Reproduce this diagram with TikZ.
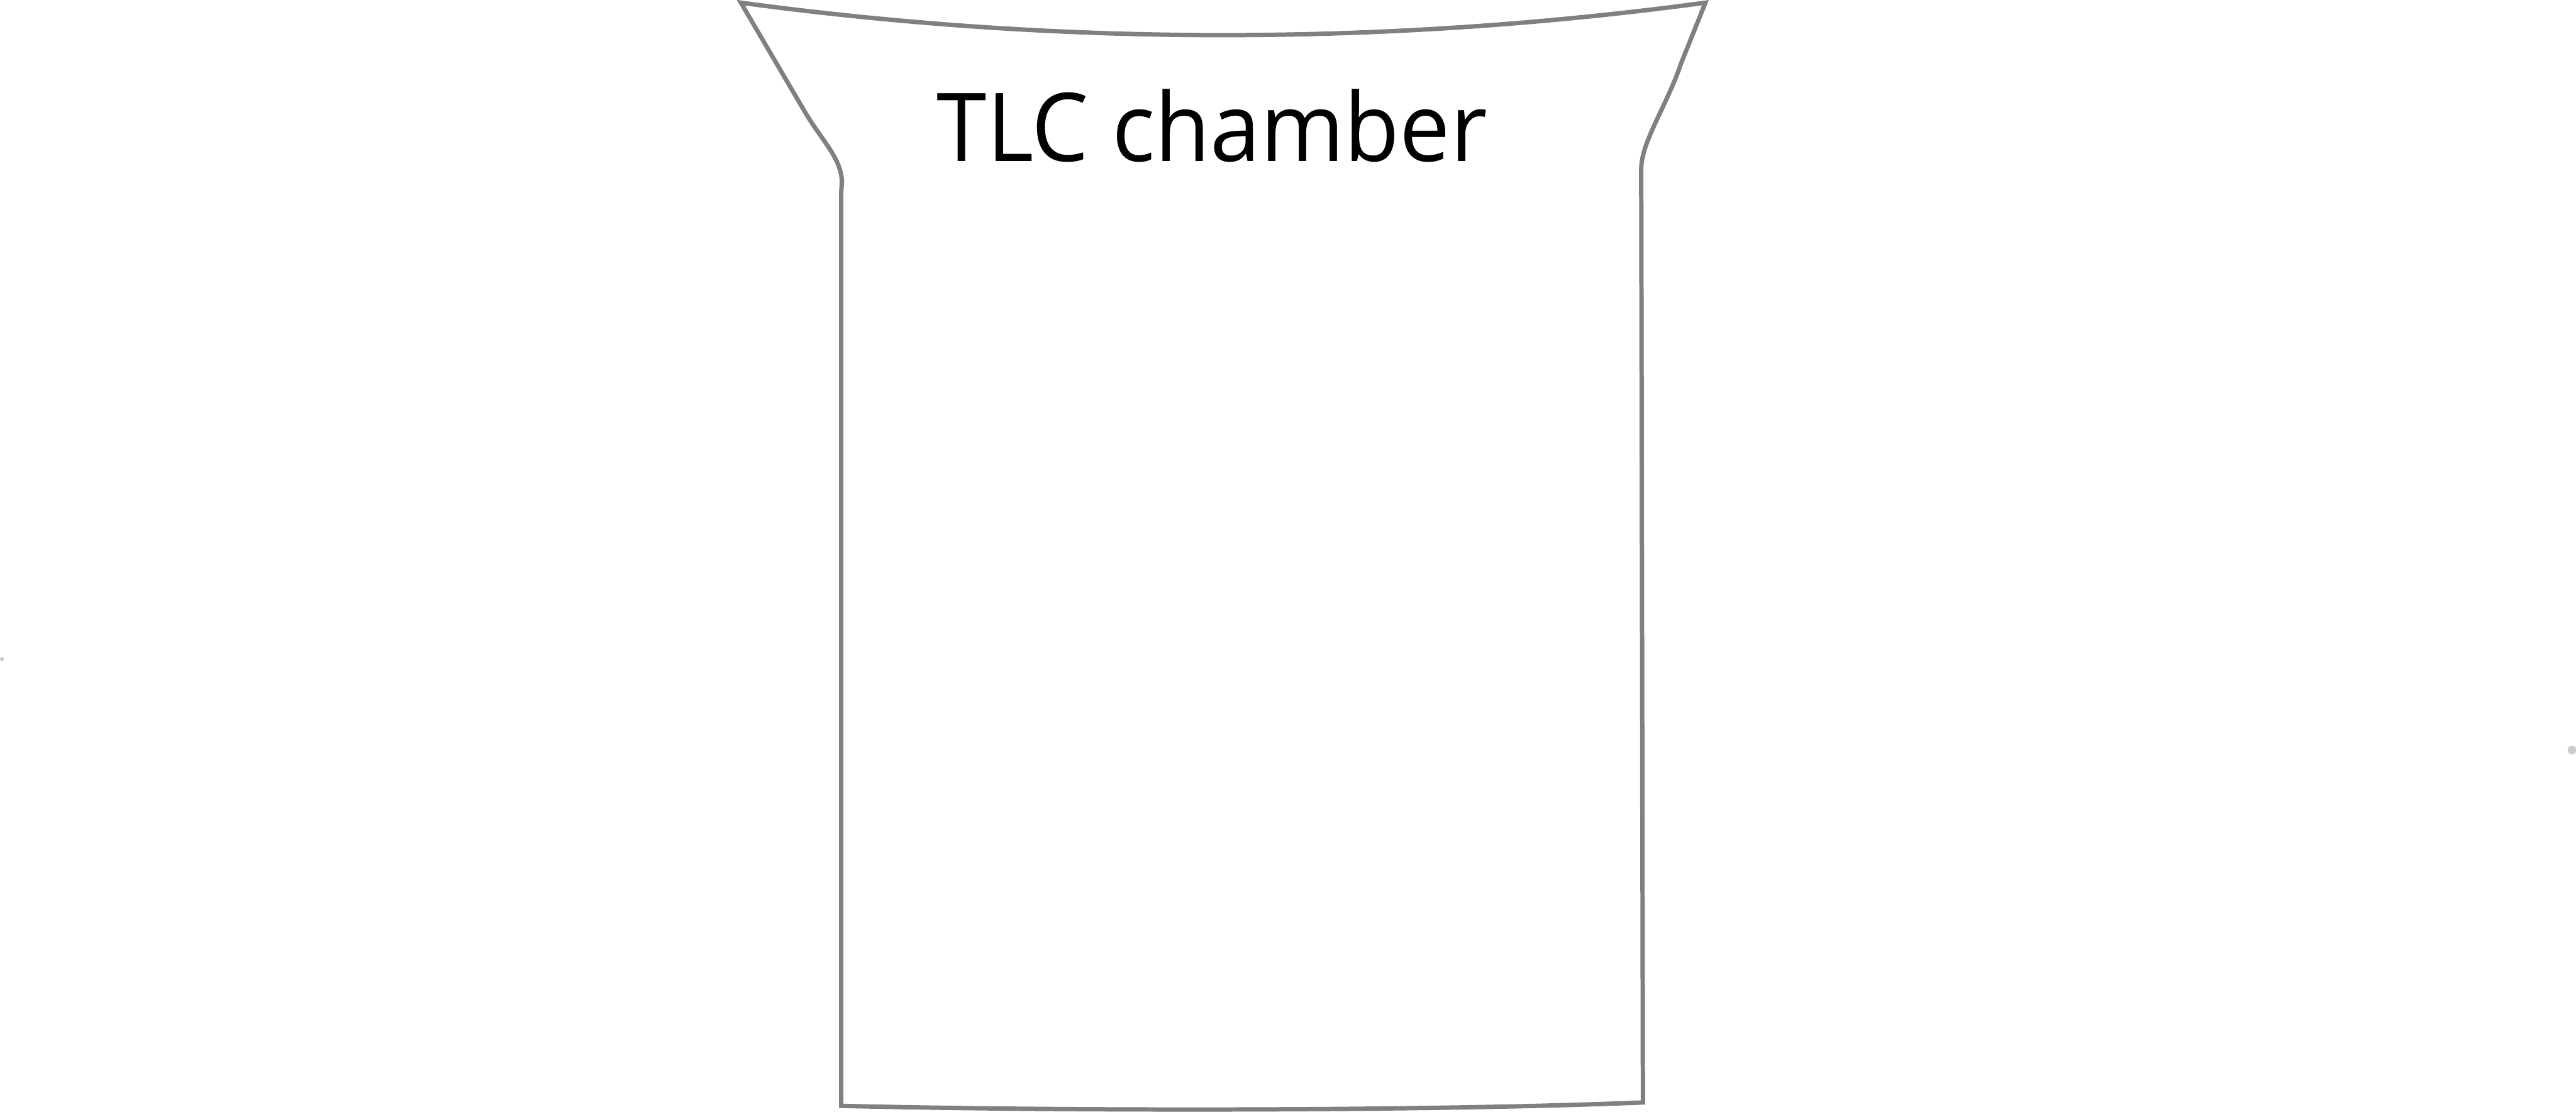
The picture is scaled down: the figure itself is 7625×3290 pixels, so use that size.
\documentclass[tikz,border=0pt]{standalone}
\usepackage{fontspec}
\setmainfont{Open Sans}
\usepackage{tikz}
\usetikzlibrary{positioning}

\begin{document}
\begin{tikzpicture}[
    x=0.05mm, y=-0.05mm,
    glass/.style={draw=black!50, line width=0.65mm, line join=miter},
    speck/.style={fill=black!20, draw=none},
    title/.style={font=\fontsize{40}{40}\selectfont, inner sep=0pt,
      anchor=base, xscale=0.95},
  ]
  \useasboundingbox (0,0) rectangle (7625,3290);

  % Chamber outline
  \draw[glass] (2193,8)
    .. controls (3144,136) and (4097,136) .. (5048,8)
    -- (4975,190)
    .. controls (4935,310) and (4858,420) .. (4858,500)
    -- (4863,3263)
    .. controls (4200,3290) and (3100,3288) .. (2490,3273)
    -- (2490,568) -- (2492,540)
    .. controls (2492,470) and (2432,415) .. (2383,332)
    -- cycle;

  % Label
  \node[title] (chamber) at (3588,477) {TLC chamber};

  % Specks
  \fill[speck] (6,1951) circle (6);
  \fill[speck] (7613,2220) circle (13);
\end{tikzpicture}
\end{document}
